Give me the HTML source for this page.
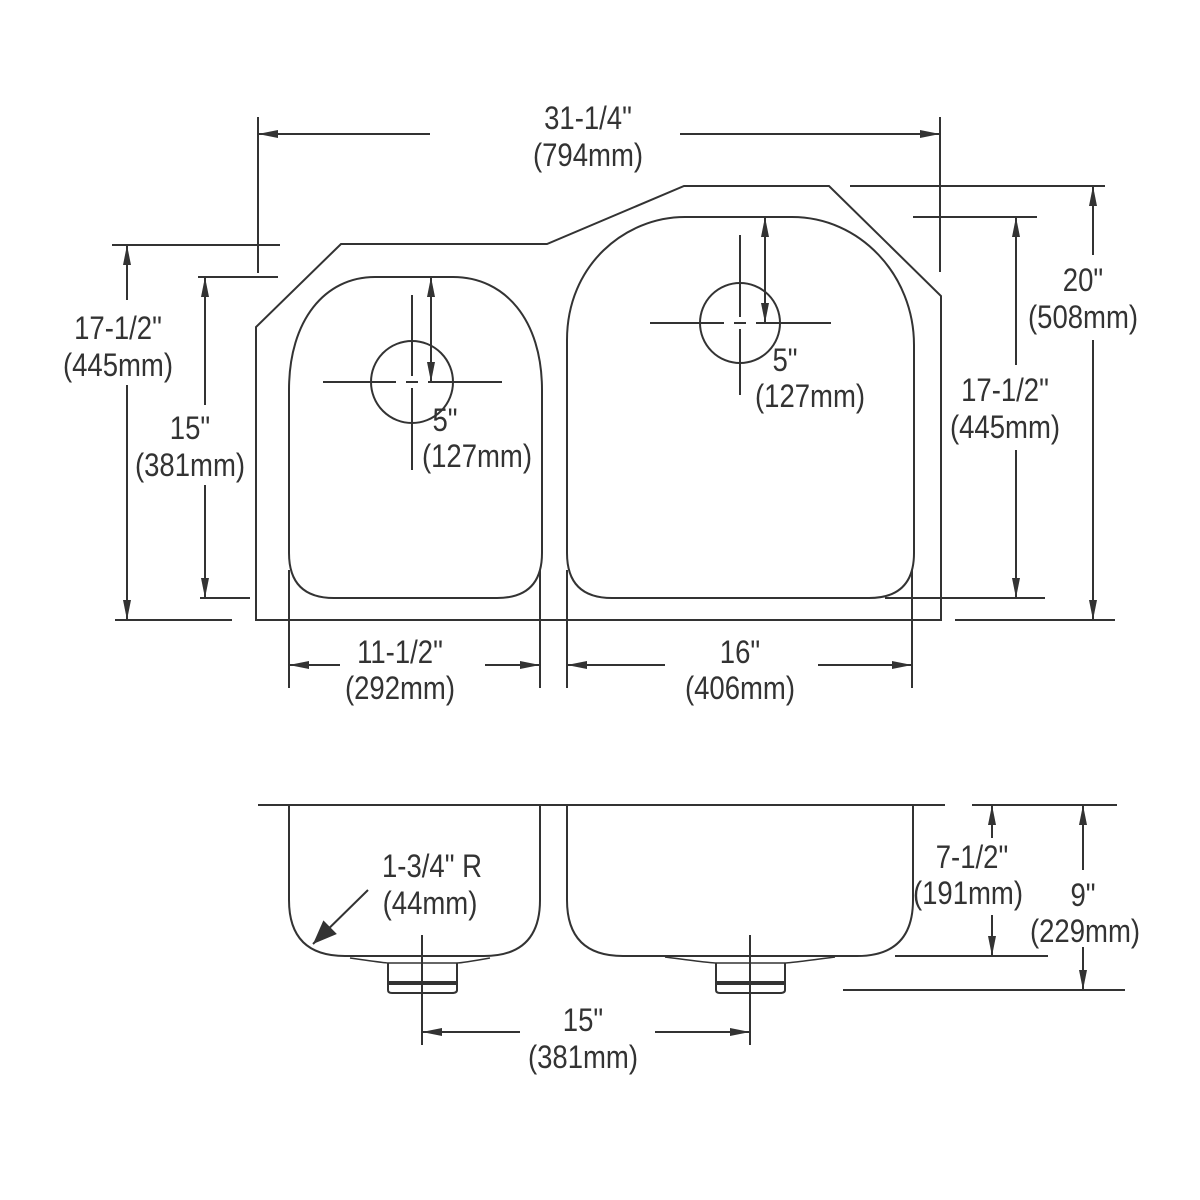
<!DOCTYPE html>
<html><head><meta charset="utf-8"><style>
html,body{margin:0;padding:0;background:#fff;}
svg{display:block}
text{font-family:"Liberation Sans",sans-serif;font-size:32px;fill:#333;text-anchor:middle;transform-box:fill-box;transform-origin:center;transform:scaleX(0.86)}
</style></head><body>
<svg width="1200" height="1200" viewBox="0 0 1200 1200" xmlns="http://www.w3.org/2000/svg">
<defs>
<marker id="a" viewBox="0 0 20 8" refX="20" refY="4" markerWidth="20" markerHeight="8" markerUnits="userSpaceOnUse" orient="auto-start-reverse"><path d="M0,0 L20,4 L0,8 z" fill="#333"/></marker>
<marker id="b" viewBox="0 0 10 10" refX="10" refY="5" markerWidth="30" markerHeight="24" markerUnits="userSpaceOnUse" orient="auto"><path d="M0,1 L10,5 L0,9 z" fill="#333"/></marker>
</defs>
<g stroke="#333" stroke-width="2" fill="none">
<path d="M256,620 L256,327 L341,244 L547,244 L684,186 L829,186 L941,296 L941,620 Z"/>
<path d="M289,390 C289,320 325,277 375,277 L453,277 C505,277 542,320 542,390 L542,553 Q542,598 497,598 L334,598 Q289,598 289,553 Z"/>
<path d="M567,340 C567,265 625,217 685,217 L792,217 C860,217 914,275 914,345 L914,553 Q914,598 869,598 L612,598 Q567,598 567,553 Z"/>
<circle cx="412" cy="382" r="41"/>
<path d="M323,382 H396 M406,382 H418 M428,382 H502 M412,295 V376 M412,388 V470"/>
<circle cx="740" cy="323" r="40"/>
<path d="M650,323 H724 M734,323 H746 M756,323 H831 M740,235 V317 M740,329 V395"/>
<line x1="431" y1="277" x2="431" y2="382" marker-start="url(#a)" marker-end="url(#a)"/>
<line x1="765" y1="217" x2="765" y2="323" marker-start="url(#a)" marker-end="url(#a)"/>
<path d="M258,117 V273 M940,117 V272"/>
<line x1="430" y1="134" x2="258" y2="134" marker-end="url(#a)"/>
<line x1="680" y1="134" x2="940" y2="134" marker-end="url(#a)"/>
<path d="M112,245 H280 M115,620 H232 M198,277 H278 M200,598 H250"/>
<line x1="127" y1="300" x2="127" y2="245" marker-end="url(#a)"/>
<line x1="127" y1="385" x2="127" y2="620" marker-end="url(#a)"/>
<line x1="205" y1="405" x2="205" y2="277" marker-end="url(#a)"/>
<line x1="205" y1="485" x2="205" y2="598" marker-end="url(#a)"/>
<path d="M850,186 H1105 M955,620 H1115 M913,217 H1037 M885,598 H1045"/>
<line x1="1093" y1="255" x2="1093" y2="186" marker-end="url(#a)"/>
<line x1="1093" y1="340" x2="1093" y2="620" marker-end="url(#a)"/>
<line x1="1016" y1="365" x2="1016" y2="217" marker-end="url(#a)"/>
<line x1="1016" y1="450" x2="1016" y2="598" marker-end="url(#a)"/>
<path d="M289,570 V688 M540,570 V688 M567,570 V688 M912,570 V688"/>
<line x1="340" y1="665" x2="289" y2="665" marker-end="url(#a)"/>
<line x1="485" y1="665" x2="540" y2="665" marker-end="url(#a)"/>
<line x1="665" y1="665" x2="567" y2="665" marker-end="url(#a)"/>
<line x1="818" y1="665" x2="912" y2="665" marker-end="url(#a)"/>
<path d="M258,805 H945"/>
<path d="M289,805 V900 Q289,956 345,956 L484,956 Q540,956 540,900 V805"/>
<path d="M567,805 V900 Q567,956 623,956 L857,956 Q913,956 913,900 V805"/>
<path d="M350,958 Q385,963 388,963 L457,963 Q462,963 490,958" stroke-width="1.5"/>
<path d="M388,963 V990 Q388,993 392,993 H452 Q457,993 457,990 V963"/>
<path d="M389,983 H456" stroke-width="4"/>
<path d="M665,957 Q710,963 716,963 L785,963 Q790,963 835,957" stroke-width="1.5"/>
<path d="M716,963 V990 Q716,993 720,993 H780 Q785,993 785,990 V963"/>
<path d="M717,983 H784" stroke-width="4"/>
<path d="M422,935 V1045 M750,935 V1045"/>
<line x1="520" y1="1032" x2="422" y2="1032" marker-end="url(#a)"/>
<line x1="655" y1="1032" x2="750" y2="1032" marker-end="url(#a)"/>
<line x1="368" y1="890" x2="313" y2="944" marker-end="url(#b)"/>
<path d="M972,805 H1117 M895,956 H1048 M843,990 H1125"/>
<line x1="992" y1="838" x2="992" y2="805" marker-end="url(#a)"/>
<line x1="992" y1="915" x2="992" y2="956" marker-end="url(#a)"/>
<line x1="1083" y1="870" x2="1083" y2="805" marker-end="url(#a)"/>
<line x1="1083" y1="947" x2="1083" y2="990" marker-end="url(#a)"/>
</g>
<text x="588" y="129">31-1/4"</text>
<text x="588" y="166">(794mm)</text>
<text x="118" y="339">17-1/2"</text>
<text x="118" y="376">(445mm)</text>
<text x="190" y="439">15"</text>
<text x="190" y="476">(381mm)</text>
<text x="1083" y="291">20"</text>
<text x="1083" y="328">(508mm)</text>
<text x="1005" y="401">17-1/2"</text>
<text x="1005" y="438">(445mm)</text>
<text x="445" y="431">5"</text>
<text x="477" y="467">(127mm)</text>
<text x="785" y="371">5"</text>
<text x="810" y="407">(127mm)</text>
<text x="400" y="663">11-1/2"</text>
<text x="400" y="699">(292mm)</text>
<text x="740" y="663">16"</text>
<text x="740" y="699">(406mm)</text>
<text x="432" y="877">1-3/4" R</text>
<text x="430" y="914">(44mm)</text>
<text x="583" y="1031">15"</text>
<text x="583" y="1068">(381mm)</text>
<text x="972" y="868">7-1/2"</text>
<text x="968" y="904">(191mm)</text>
<text x="1083" y="906">9"</text>
<text x="1085" y="942">(229mm)</text>
</svg>
</body></html>
